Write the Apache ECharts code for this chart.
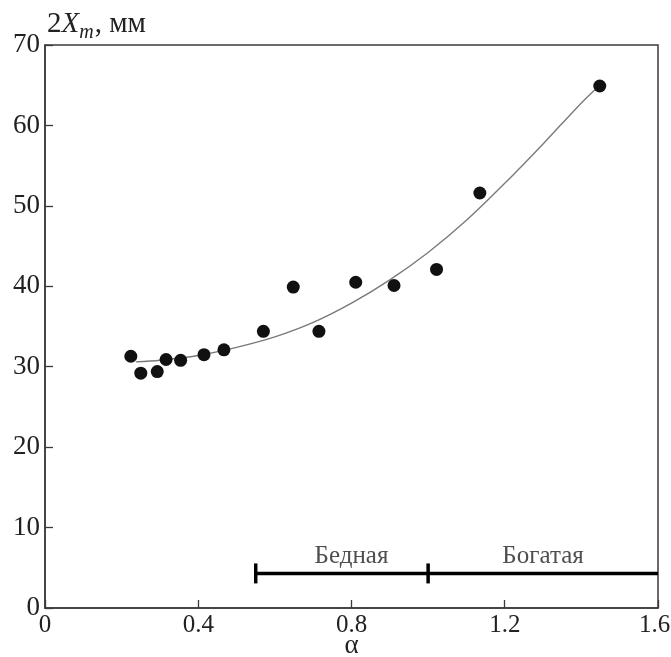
<!DOCTYPE html>
<html>
<head>
<meta charset="utf-8">
<script src="https://cdn.jsdelivr.net/npm/echarts@6/dist/echarts.min.js"></script>
<style>
  html, body { margin: 0; padding: 0; background: #fff; }
  #chart { width: 671px; height: 657px; }
</style>
</head>
<body>
<div id="chart"></div>
<script>
// Measured points: equivalence ratio α and width 2X_m (mm)
const alphaValues = [0.224, 0.250, 0.293, 0.316, 0.354, 0.415, 0.467, 0.570, 0.648, 0.715, 0.811, 0.911, 1.022, 1.135, 1.448];
const widthValues = [31.3, 29.2, 29.4, 30.9, 30.8, 31.5, 32.1, 34.4, 39.9, 34.4, 40.5, 40.1, 42.1, 51.6, 64.9];

// Approximating curve drawn through the data
const curveAlpha = [0.237, 0.3, 0.4, 0.5, 0.6, 0.7, 0.8, 0.9, 1.0, 1.1, 1.2, 1.3, 1.4, 1.448];
const curveWidth = [30.6, 30.8, 31.4, 32.4, 33.7, 35.5, 37.9, 40.8, 44.2, 48.2, 52.8, 57.7, 62.8, 65.0];

// Mixture zones: lean (Бедная) and rich (Богатая)
const zoneBounds = [0.55, 1.0, 1.6];
const zoneLevel = 4.3;
const zoneNames = ['Бедная', 'Богатая'];
const zoneNameAlpha = [0.8, 1.3];
const zoneNameLevel = 6.4;

// Axis tick labels
const xTickLabels = ['0', '0.4', '0.8', '1.2', '1.6'];
const yTickLabels = ['0', '10', '20', '30', '40', '50', '60', '70'];

const serif = '"Liberation Serif", "DejaVu Serif", serif';
const ink = '#222';

const chart = echarts.init(document.getElementById('chart'), null, { renderer: 'canvas' });

const axisCommon = {
  axisLine: { show: true, lineStyle: { color: '#3a3a3a', width: 1.5 } },
  axisTick: { show: true, inside: true, length: 8, lineStyle: { color: '#3a3a3a', width: 1.3 } },
  splitLine: { show: false }
};

chart.setOption({
  backgroundColor: '#fff',
  animation: false,
  grid: {
    left: 45, right: 13, top: 45, bottom: 49,
    containLabel: false,
    outerBoundsMode: 'none',
    show: true, borderColor: '#3a3a3a', borderWidth: 1.5, backgroundColor: 'transparent'
  },
  xAxis: Object.assign({
    type: 'value', min: 0, max: 1.6, interval: 0.4,
    name: 'α', nameLocation: 'middle', nameGap: 24, nameMoveOverlap: false,
    nameTextStyle: { fontFamily: serif, fontSize: 27, color: ink, verticalAlign: 'top' },
    axisLabel: {
      fontFamily: serif, fontSize: 25, color: ink, margin: 5,
      formatter: (v) => {
        const k = Math.round(v / 0.4);
        // the last label is nudged left so it stays inside the canvas
        return k === xTickLabels.length - 1 ? '{e|' + xTickLabels[k] + '}' : xTickLabels[k];
      },
      rich: { e: { fontFamily: serif, fontSize: 25, color: ink, padding: [0, 7, 0, 0] } }
    }
  }, axisCommon),
  yAxis: Object.assign({
    type: 'value', min: 0, max: 70, interval: 10,
    axisLabel: {
      fontFamily: serif, fontSize: 27, color: ink, margin: 5,
      formatter: (v) => yTickLabels[Math.round(v / 10)]
    }
  }, axisCommon),
  graphic: [{
    type: 'text',
    left: 47, top: 10,
    style: {
      text: '{n|2}{i|X}{s|m}{n|, мм}',
      rich: {
        n: { fontFamily: serif, fontSize: 29, fill: ink },
        i: { fontFamily: serif, fontSize: 29, fontStyle: 'italic', fill: ink },
        s: { fontFamily: serif, fontSize: 20, fontStyle: 'italic', fill: ink, padding: [16, 1, 0, 0] }
      }
    }
  }],
  series: [
    {
      type: 'line',
      data: curveAlpha.map((a, k) => [a, curveWidth[k]]),
      smooth: 0.3,
      showSymbol: false,
      lineStyle: { color: '#7a7a7a', width: 1.4 },
      z: 2
    },
    {
      type: 'scatter',
      data: alphaValues.map((a, k) => [a, widthValues[k]]),
      symbol: 'circle',
      symbolSize: 13,
      itemStyle: { color: '#111', opacity: 1 },
      z: 3
    },
    {
      type: 'line',
      data: zoneBounds.map((a) => [a, zoneLevel]),
      showSymbol: false,
      lineStyle: { color: '#000', width: 3.5 },
      z: 2
    },
    {
      type: 'scatter',
      data: zoneBounds.slice(0, 2).map((a) => [a, zoneLevel]),
      symbol: 'rect',
      symbolSize: [3.5, 20],
      itemStyle: { color: '#000', opacity: 1 },
      z: 3
    },
    {
      type: 'scatter',
      data: zoneNames.map((nm, k) => ({ name: nm, value: [zoneNameAlpha[k], zoneNameLevel] })),
      symbolSize: 1,
      itemStyle: { color: 'transparent' },
      label: {
        show: true, position: 'inside', formatter: '{b}',
        fontFamily: serif, fontSize: 25, color: ink
      },
      z: 4
    }
  ]
});
</script>
</body>
</html>
